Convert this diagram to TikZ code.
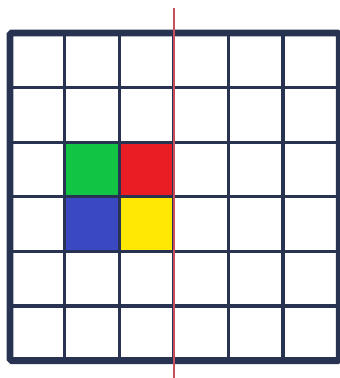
\documentclass[tikz,border=0pt]{standalone}
\usepackage{tikz}
\definecolor{gridnavy}{HTML}{283352}
\definecolor{cellgreen}{HTML}{12C444}
\definecolor{cellred}{HTML}{EA1C24}
\definecolor{cellblue}{HTML}{3A48C4}
\definecolor{cellyellow}{HTML}{FFE804}
\definecolor{axisred}{HTML}{C8505C}
\begin{document}
\begin{tikzpicture}[x=1cm, y=1cm]
            \useasboundingbox (-0.183, -0.319) rectangle (6.026, 6.604);

            \fill[cellgreen] (1, 3) rectangle (2, 4);
            \fill[cellred] (2, 3) rectangle (3, 4);
            \fill[cellblue] (1, 2) rectangle (2, 3);
            \fill[cellyellow] (2, 2) rectangle (3, 3);

            \draw[gridnavy, line width=1.7pt] (0, 0) grid (6, 6);
            \draw[gridnavy, line width=3.6pt, rounded corners=1pt] (0, 0) rectangle (6.03, 6);

            \draw[axisred, line width=1.2pt] (3, -0.4) -- (3, 6.45);
        \end{tikzpicture}
\end{document}
